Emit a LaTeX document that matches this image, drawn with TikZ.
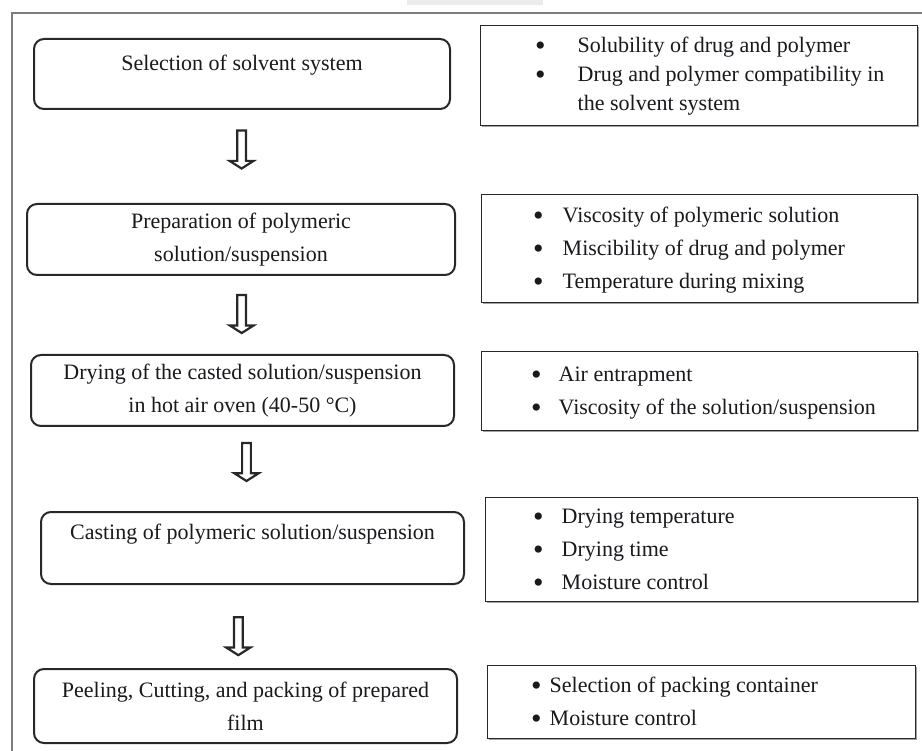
\documentclass[tikz,border=0pt]{standalone}
\usepackage{fontspec}
\setmainfont{Liberation Serif}
\usepackage{tikz}
\usetikzlibrary{shapes.arrows, shadows, positioning, calc}
\definecolor{framegray}{RGB}{125,125,125}
\definecolor{boxline}{RGB}{40,40,40}
\definecolor{tabgray}{RGB}{236,236,236}
\definecolor{inkdark}{RGB}{25,25,30}
\newcommand{\bul}{\raisebox{-3pt}{\fontsize{30}{22}\selectfont\textbullet}}
\tikzset{
  stepbox/.style={rectangle, rounded corners=10pt, draw=boxline, fill=white,
    line width=2pt, anchor=north west, align=center, inner sep=0pt,
    text=inkdark, font=\fontsize{22}{33}\selectfont},
  factbox/.style={rectangle, draw=boxline, fill=white, line width=1.3pt,
    anchor=north west, inner sep=0pt,
    drop shadow={shadow xshift=1.8pt, shadow yshift=-1.8pt, fill=black!60, opacity=0.6}},
  factlist/.style={anchor=west, inner sep=0pt, align=left,
    text=inkdark, font=\fontsize{22}{33}\selectfont},
  flowarrow/.style={single arrow, draw=boxline, fill=white, line width=2.2pt,
    shape border rotate=270, minimum height=38pt, minimum width=24pt,
    inner sep=3.2pt, single arrow head extend=7.5pt, single arrow tip angle=115}
}
\begin{document}
\begin{tikzpicture}[x=1pt, y=-1pt]
  \useasboundingbox (0,0) rectangle (922,751);

  % Frame
  \fill[tabgray] (407,0) rectangle (543,5);
  \draw[framegray, line width=2pt] (12,751) -- (12,13) -- (922,13);

  % Process steps
  \node[stepbox, minimum width=416, minimum height=70] (b1) at (33,38)
    {Selection of solvent system\\[-10pt]\mbox{}};
  \node[stepbox, minimum width=428, minimum height=71] (b2) at (26,203)
    {Preparation of polymeric\\solution/suspension};
  \node[stepbox, minimum width=423, minimum height=71] (b3) at (30,354)
    {Drying of the casted solution/suspension\\in hot air oven (40-50 °C)};
  \node[stepbox, minimum width=423, minimum height=72] (b4) at (40,511)
    {Casting of polymeric solution/suspension\\\mbox{}};
  \node[stepbox, minimum width=423, minimum height=74] (b5) at (33,668)
    {Peeling, Cutting, and packing of prepared\\film};

  % Hollow arrows
  \path (b1.south) -- node[flowarrow, pos=0.41] (a1) {} (b2.north);
  \path (b2.south) -- node[flowarrow, pos=0.47] (a2) {} (b3.north);
  \path (b3.south) -- node[flowarrow, pos=0.40] (a3) {} (b4.north);
  \path (b4.south) -- node[flowarrow, pos=0.60, xshift=-10pt] (a4) {} (b5.north);

  % Critical factors
  \node[factbox, minimum width=437, minimum height=100] (r1) at (480,25) {};
  \node[factbox, minimum width=436, minimum height=108] (r2) at (481,194) {};
  \node[factbox, minimum width=436, minimum height=79] (r3) at (481,351) {};
  \node[factbox, minimum width=432, minimum height=104] (r4) at (485,497) {};
  \node[factbox, minimum width=428, minimum height=73] (r5) at (487,665) {};

  \node[factlist, font=\fontsize{22}{29}\selectfont] (l1) at ([xshift=55pt]r1.west)
    {\begin{tabular}{@{}l@{\hspace{32pt}}l@{}}
      \bul & Solubility of drug and polymer\\
      \bul & Drug and polymer compatibility in\\
           & the solvent system
     \end{tabular}};
  \node[factlist] (l2) at ([xshift=52pt]r2.west)
    {\begin{tabular}{@{}l@{\hspace{19pt}}l@{}}
      \bul & Viscosity of polymeric solution\\
      \bul & Miscibility of drug and polymer\\
      \bul & Temperature during mixing
     \end{tabular}};
  \node[factlist] (l3) at ([xshift=50pt]r3.west)
    {\begin{tabular}{@{}l@{\hspace{17pt}}l@{}}
      \bul & Air entrapment\\
      \bul & Viscosity of the solution/suspension
     \end{tabular}};
  \node[factlist] (l4) at ([xshift=48pt]r4.west)
    {\begin{tabular}{@{}l@{\hspace{18pt}}l@{}}
      \bul & Drying temperature\\
      \bul & Drying time\\
      \bul & Moisture control
     \end{tabular}};
  \node[factlist] (l5) at ([xshift=44pt]r5.west)
    {\begin{tabular}{@{}l@{\hspace{8pt}}l@{}}
      \bul & Selection of packing container\\
      \bul & Moisture control
     \end{tabular}};
\end{tikzpicture}
\end{document}
